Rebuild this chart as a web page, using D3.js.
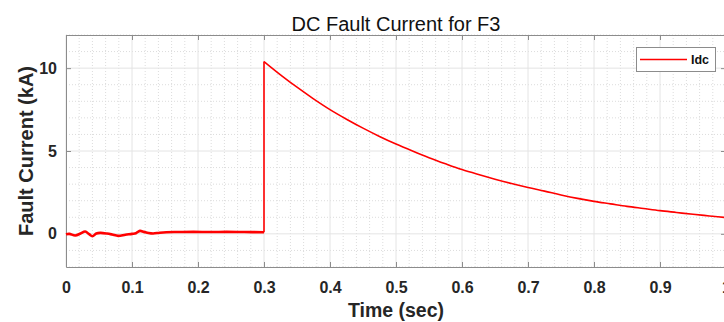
<!DOCTYPE html>
<html>
<head>
<meta charset="utf-8">
<script src="https://cdn.jsdelivr.net/npm/d3@7"></script>
<style>
	body { margin: 0; background: #fff; }
	svg { display: block; font-family: Arial, 'Liberation Sans', sans-serif; }
</style>
</head>
<body>
<svg id="chart" width="724" height="322"></svg>
<script>
// pre-fault (noisy) part
const preTime = [0, 0.005, 0.014, 0.022, 0.029, 0.035, 0.04, 0.046, 0.052, 0.062, 0.07, 0.079, 0.09, 0.1, 0.106, 0.112, 0.118, 0.125, 0.132, 0.142, 0.152, 0.17, 0.193, 0.22, 0.243, 0.27, 0.3];
const preValue = [-0.03, 0.0, -0.1, 0.02, 0.14, -0.02, -0.14, 0.02, 0.06, 0.02, -0.04, -0.12, -0.05, 0.0, 0.04, 0.18, 0.12, 0.05, 0.02, 0.07, 0.1, 0.11, 0.12, 0.11, 0.12, 0.11, 0.1];
// post-fault decay
const postTime = [0.3, 0.325, 0.35, 0.375, 0.4, 0.425, 0.45, 0.475, 0.5, 0.525, 0.55, 0.575, 0.6, 0.625, 0.65, 0.675, 0.7, 0.725, 0.75, 0.775, 0.8, 0.825, 0.85, 0.875, 0.9, 0.925, 0.95, 0.975, 1.0];
const postValue = [10.4, 9.6, 8.85, 8.15, 7.5, 6.92, 6.38, 5.88, 5.42, 5.0, 4.6, 4.23, 3.88, 3.58, 3.3, 3.04, 2.8, 2.58, 2.35, 2.14, 1.96, 1.81, 1.66, 1.53, 1.4, 1.29, 1.18, 1.08, 0.98];
const xTicks = [0, 0.1, 0.2, 0.3, 0.4, 0.5, 0.6, 0.7, 0.8, 0.9, 1];
const yTicks = [0, 5, 10];

const margin = { top: 35, right: -2, bottom: 55, left: 66 };
const W = 724, H = 322;
const width = W - margin.left - margin.right;
const height = H - margin.top - margin.bottom;

const x = d3.scaleLinear().domain([0, 1]).range([0, width]);
const y = d3.scaleLinear().domain([-2, 12]).range([height, 0]);

const svg = d3.select('#chart');
const g = svg.append('g')
	.attr('transform', `translate(${ margin.left }, ${ margin.top })`);

// minor grid (dotted)
const xMinor = d3.range(0, 1.0001, 0.02).filter(v => Math.abs(v * 10 - Math.round(v * 10)) > 1e-6);
const yMinor = d3.range(-2, 12.0001, 1).filter(v => v % 5 !== 0);
g.append('g').selectAll('line').data(xMinor).join('line')
	.attr('x1', d => x(d)).attr('x2', d => x(d))
	.attr('y1', 0).attr('y2', height)
	.attr('stroke', '#dcdcdc').attr('stroke-dasharray', '1,2');
g.append('g').selectAll('line').data(yMinor).join('line')
	.attr('y1', d => y(d)).attr('y2', d => y(d))
	.attr('x1', 0).attr('x2', width)
	.attr('stroke', '#dcdcdc').attr('stroke-dasharray', '1,2');

// major grid
g.append('g').selectAll('line').data(xTicks).join('line')
	.attr('x1', d => x(d)).attr('x2', d => x(d))
	.attr('y1', 0).attr('y2', height)
	.attr('stroke', '#e4e4e4');
g.append('g').selectAll('line').data(yTicks).join('line')
	.attr('y1', d => y(d)).attr('y2', d => y(d))
	.attr('x1', 0).attr('x2', width)
	.attr('stroke', '#e4e4e4');

// axes
const fmt = d => d3.format('')(d);
g.append('g')
	.attr('class', 'axis')
	.attr('transform', `translate(0, ${ height })`)
	.call(d3.axisBottom(x).tickValues(xTicks).tickFormat(fmt).tickSizeInner(-5).tickSizeOuter(0).tickPadding(15));
g.append('g')
	.attr('class', 'axis')
	.call(d3.axisLeft(y).tickValues(yTicks).tickFormat(fmt).tickSizeInner(-5).tickSizeOuter(0).tickPadding(9));
g.append('g')
	.call(d3.axisTop(x).tickValues(xTicks).tickFormat('').tickSizeInner(-5).tickSizeOuter(0));
g.append('g')
	.attr('transform', `translate(${ width }, 0)`)
	.call(d3.axisRight(y).tickValues(yTicks).tickFormat('').tickSizeInner(-5).tickSizeOuter(0));

svg.selectAll('.domain').attr('stroke', '#8c8c8c');
svg.selectAll('.tick line').attr('stroke', '#8c8c8c');
svg.selectAll('.axis text')
	.attr('font-size', 16)
	.attr('font-weight', 'bold')
	.attr('fill', '#262626');

// data line: noisy pre-fault part
g.append('path')
	.datum(preTime.map((t, i) => ({ x: t, y: preValue[i] })))
	.attr('fill', 'none')
	.attr('stroke', '#ff0000')
	.attr('stroke-width', 2.6)
	.attr('d', d3.line().x(d => x(d.x)).y(d => y(d.y)).curve(d3.curveCatmullRom));
// jump at the fault instant
g.append('path')
	.datum([{ x: postTime[0], y: preValue[preValue.length - 1] }, { x: postTime[0], y: postValue[0] }])
	.attr('fill', 'none')
	.attr('stroke', '#ff0000')
	.attr('stroke-width', 1.6)
	.attr('d', d3.line().x(d => x(d.x)).y(d => y(d.y)));
// decay
g.append('path')
	.datum(postTime.map((t, i) => ({ x: t, y: postValue[i] })))
	.attr('fill', 'none')
	.attr('stroke', '#ff0000')
	.attr('stroke-width', 1.6)
	.attr('stroke-linejoin', 'round')
	.attr('d', d3.line().x(d => x(d.x)).y(d => y(d.y)).curve(d3.curveMonotoneX));

// legend
const lg = g.append('g').attr('transform', `translate(${ 636 - margin.left }, ${ 47 - margin.top })`);
lg.append('rect')
	.attr('x', 0.5).attr('y', 0.5).attr('width', 79).attr('height', 24)
	.attr('fill', '#fff').attr('stroke', '#8c8c8c');
lg.append('line')
	.attr('x1', 4).attr('x2', 51).attr('y1', 12.5).attr('y2', 12.5)
	.attr('stroke', '#ff0000').attr('stroke-width', 1.6);
lg.append('text')
	.attr('x', 55).attr('y', 17)
	.attr('font-size', 12.5).attr('font-weight', 'bold').attr('fill', '#111')
	.text('Idc');

// titles
svg.append('text')
	.attr('x', margin.left + width / 2).attr('y', 31)
	.attr('text-anchor', 'middle')
	.attr('font-size', 20).attr('fill', '#111')
	.text('DC Fault Current for F3');
svg.append('text')
	.attr('x', margin.left + width / 2).attr('y', 317)
	.attr('text-anchor', 'middle')
	.attr('font-size', 19.5).attr('font-weight', 'bold').attr('fill', '#262626')
	.text('Time (sec)');
svg.append('text')
	.attr('transform', `translate(33, ${ margin.top + height / 2 }) rotate(-90)`)
	.attr('text-anchor', 'middle')
	.attr('font-size', 20).attr('font-weight', 'bold').attr('fill', '#262626')
	.text('Fault Current (kA)');
</script>
</body>
</html>
